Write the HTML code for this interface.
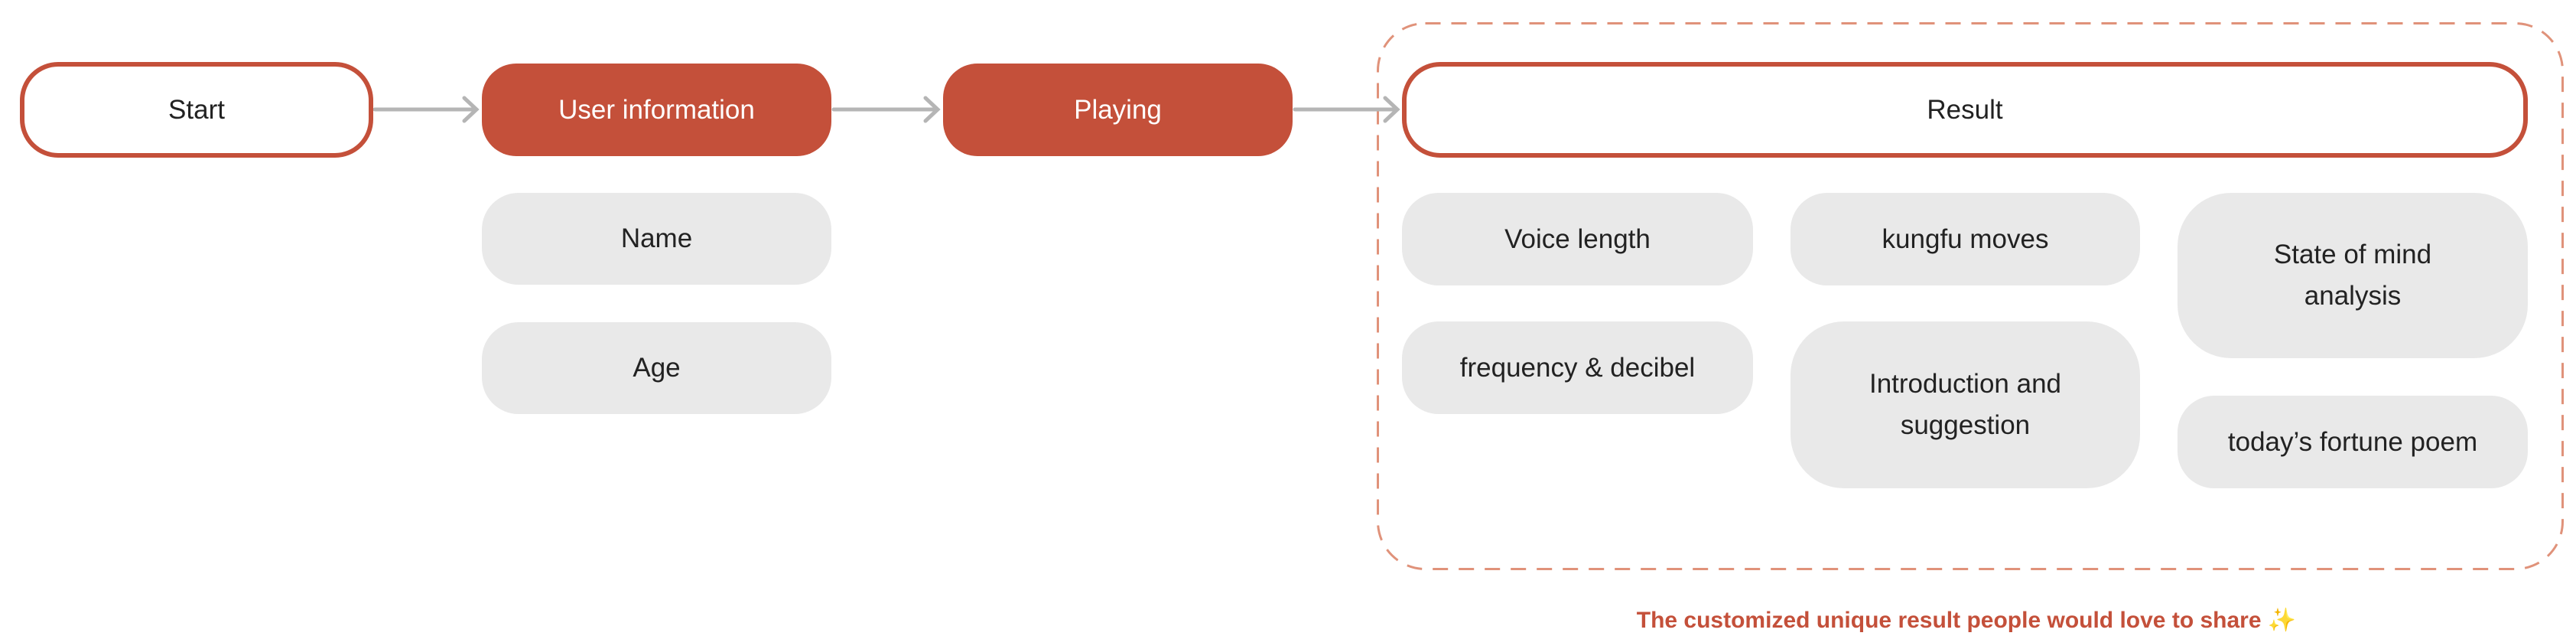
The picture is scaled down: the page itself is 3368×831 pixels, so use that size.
<!DOCTYPE html>
<html><head><meta charset="utf-8"><style>
body{margin:0;width:3368px;height:831px;background:#fff;position:relative;overflow:hidden;font-family:"Liberation Sans",sans-serif;}
.b{position:absolute;box-sizing:border-box;display:flex;align-items:center;justify-content:center;text-align:center;font-size:35px;color:#222;line-height:54px;}
.o{border:6px solid #C4503A;background:#fff;border-radius:50px;}
.f{background:#C4503A;color:#fff;border-radius:45px;}
.g{background:#E9E9E9;border-radius:48px;}
</style></head><body>
<svg width="3368" height="831" style="position:absolute;left:0;top:0">
<rect x="1801.5" y="30.5" width="1549" height="713" rx="62" fill="none" stroke="#E0927A" stroke-width="3" stroke-dasharray="20 14"/>
<g stroke="#B5B5B5" stroke-width="5" fill="none" stroke-linecap="round">
<line x1="490" y1="143" x2="622" y2="143"/><polyline points="607,128 623,143 607,158"/>
<line x1="1090" y1="143" x2="1225" y2="143"/><polyline points="1210,128 1226,143 1210,158"/>
<line x1="1693" y1="143" x2="1826" y2="143"/><polyline points="1811,128 1827,143 1811,158"/>
</g></svg>
<div class="b o" style="left:26px;top:81px;width:462px;height:125px;">Start</div>
<div class="b f" style="left:630px;top:83px;width:457px;height:121px;">User information</div>
<div class="b g" style="left:630px;top:252px;width:457px;height:120px;">Name</div>
<div class="b g" style="left:630px;top:421px;width:457px;height:120px;">Age</div>
<div class="b f" style="left:1233px;top:83px;width:457px;height:121px;">Playing</div>
<div class="b o" style="left:1833px;top:81px;width:1472px;height:125px;">Result</div>
<div class="b g" style="left:1833px;top:252px;width:459px;height:121px;">Voice length</div>
<div class="b g" style="left:1833px;top:420px;width:459px;height:121px;">frequency &amp; decibel</div>
<div class="b g" style="left:2341px;top:252px;width:457px;height:121px;">kungfu moves</div>
<div class="b g" style="left:2341px;top:420px;width:457px;height:218px;border-radius:70px;">Introduction and<br>suggestion</div>
<div class="b g" style="left:2847px;top:252px;width:458px;height:216px;border-radius:70px;">State of mind<br>analysis</div>
<div class="b g" style="left:2847px;top:517px;width:458px;height:121px;">today’s fortune poem</div>
<div style="position:absolute;left:1785px;width:1572px;top:793px;text-align:center;font-size:30px;font-weight:bold;color:#C4503A;">The customized unique result people would love to share <span style="color:#F2C94C">✨</span></div>
</body></html>
